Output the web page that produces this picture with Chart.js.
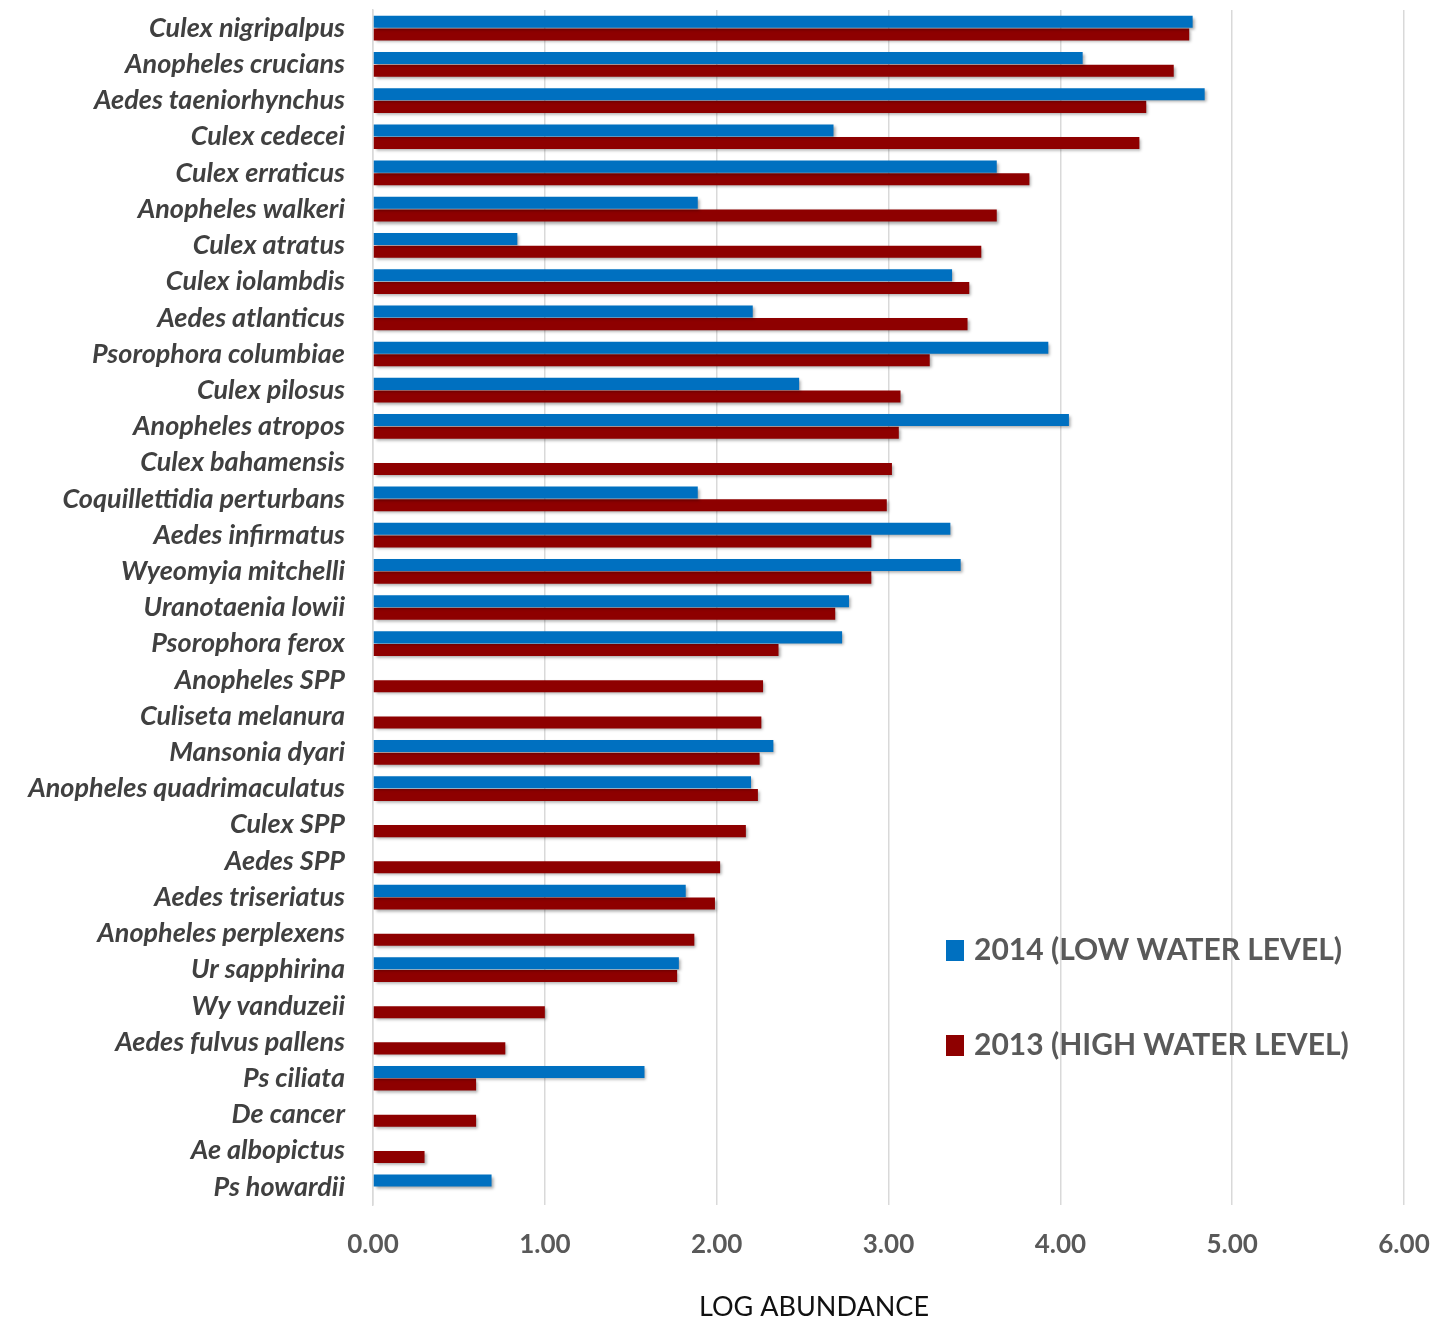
<!DOCTYPE html>
<html>
<head>
<meta charset="utf-8">
<script src="https://cdn.jsdelivr.net/npm/chart.js@4.4.1/dist/chart.umd.min.js"></script>
<style>
  body { margin: 0; background: #fff; }
  #wrap { width: 1446px; height: 1321px; position: relative; }
</style>
</head>
<body>
<div id="wrap"><canvas id="chart"></canvas></div>
<script>
// species, top to bottom
const species = [
  'Culex nigripalpus', 'Anopheles crucians', 'Aedes taeniorhynchus', 'Culex cedecei',
  'Culex erraticus', 'Anopheles walkeri', 'Culex atratus', 'Culex iolambdis',
  'Aedes atlanticus', 'Psorophora columbiae', 'Culex pilosus', 'Anopheles atropos',
  'Culex bahamensis', 'Coquillettidia perturbans', 'Aedes infirmatus', 'Wyeomyia mitchelli',
  'Uranotaenia lowii', 'Psorophora ferox', 'Anopheles SPP', 'Culiseta melanura',
  'Mansonia dyari', 'Anopheles quadrimaculatus', 'Culex SPP', 'Aedes SPP',
  'Aedes triseriatus', 'Anopheles perplexens', 'Ur sapphirina', 'Wy vanduzeii',
  'Aedes fulvus pallens', 'Ps ciliata', 'De cancer', 'Ae albopictus', 'Ps howardii'
];

// 2014 (low water level), null = no bar
const low2014 = [
  4.77, 4.13, 4.84, 2.68, 3.63, 1.89, 0.84, 3.37, 2.21, 3.93, 2.48, 4.05,
  null, 1.89, 3.36, 3.42, 2.77, 2.73, null, null, 2.33, 2.20, null, null,
  1.82, null, 1.78, null, null, 1.58, null, null, 0.69
];

// 2013 (high water level)
const high2013 = [
  4.75, 4.66, 4.50, 4.46, 3.82, 3.63, 3.54, 3.47, 3.46, 3.24, 3.07, 3.06,
  3.02, 2.99, 2.90, 2.90, 2.69, 2.36, 2.27, 2.26, 2.25, 2.24, 2.17, 2.02,
  1.99, 1.87, 1.77, 1.00, 0.77, 0.60, 0.60, 0.30, null
];

const xTicks = [0, 1, 2, 3, 4, 5, 6];
const xTitle = 'LOG ABUNDANCE';

const blue = '#0070c0';
const red = '#8e0000';

// soft drop shadow under the bars
const barShadow = {
  id: 'barShadow',
  beforeDatasetsDraw(chart) {
    const ctx = chart.ctx;
    ctx.save();
    ctx.shadowColor = 'rgba(0,0,0,0.35)';
    ctx.shadowOffsetX = 2;
    ctx.shadowOffsetY = 2;
    ctx.shadowBlur = 3;
  },
  afterDatasetsDraw(chart) {
    chart.ctx.restore();
  }
};

// legend inside the plot (lower right) and the axis title, which sits left of centre
const extras = {
  id: 'extras',
  afterDraw(chart) {
    const ctx = chart.ctx;
    const area = chart.chartArea;
    const x0 = area.left + 573;
    const rows = [area.top + 940, area.top + 1035];
    ctx.save();
    ctx.font = 'bold 30px Lato';
    ctx.textBaseline = 'middle';
    chart.data.datasets.forEach((ds, i) => {
      ctx.fillStyle = ds.backgroundColor;
      ctx.fillRect(x0, rows[i] - 10, 18, 21);
      ctx.fillStyle = '#595959';
      ctx.fillText(ds.label, x0 + 28, rows[i]);
    });
    ctx.font = '27px Lato';
    ctx.fillStyle = '#111';
    ctx.textAlign = 'center';
    ctx.fillText(xTitle, area.left + 441, area.bottom + 102);
    ctx.restore();
  }
};

new Chart(document.getElementById('chart'), {
  type: 'bar',
  data: {
    labels: species,
    datasets: [
      { label: '2014 (LOW WATER LEVEL)', data: low2014, backgroundColor: blue },
      { label: '2013 (HIGH WATER LEVEL)', data: high2013, backgroundColor: red }
    ]
  },
  options: {
    indexAxis: 'y',
    responsive: true,
    maintainAspectRatio: false,
    animation: false,
    layout: { padding: { top: 10, right: 42, left: 0, bottom: 0 } },
    datasets: { bar: { categoryPercentage: 0.7, barPercentage: 0.95 } },
    plugins: {
      legend: { display: false },
      tooltip: { enabled: false }
    },
    scales: {
      x: {
        min: 0,
        max: 6,
        afterBuildTicks(axis) { axis.ticks = xTicks.map(v => ({ value: v })); },
        afterFit(axis) {
          axis.height = 116;
          axis.paddingLeft = 0;
          axis.paddingRight = 0;
        },
        grid: { color: '#d9d9d9', lineWidth: 1.5, drawTicks: false },
        border: { display: false },
        ticks: {
          padding: 24,
          color: '#595959',
          font: { family: 'Lato', size: 26, weight: 'bold' },
          callback: v => v.toFixed(2)
        }
      },
      y: {
        afterFit(axis) {
          axis.width = 373;
          axis.paddingTop = 0;
          axis.paddingBottom = 0;
        },
        grid: { display: false },
        border: { display: true, color: '#d9d9d9', width: 1.5 },
        ticks: {
          autoSkip: false,
          padding: 20,
          color: '#404040',
          font: { family: 'Lato', size: 27, weight: 'bold', style: 'italic' }
        }
      }
    }
  },
  plugins: [barShadow, extras]
});
</script>
</body>
</html>
